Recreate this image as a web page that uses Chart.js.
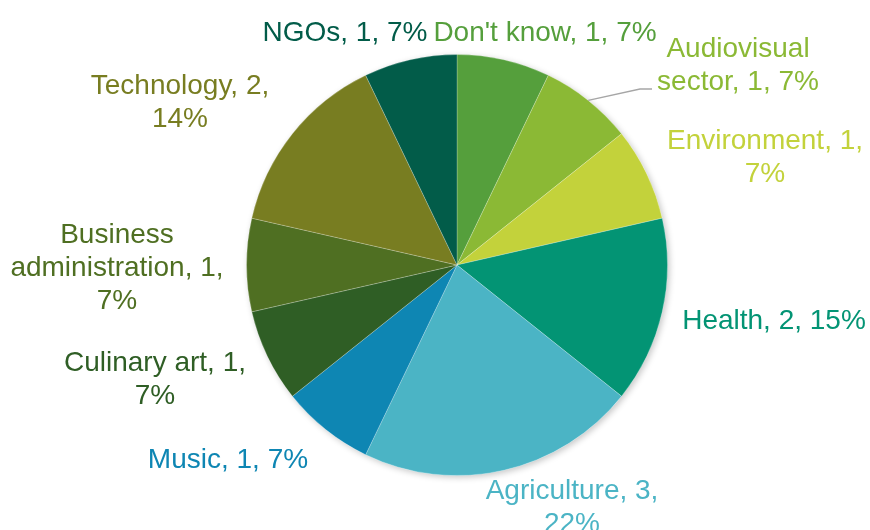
<!DOCTYPE html>
<html>
<head>
<meta charset="utf-8">
<script src="https://cdn.jsdelivr.net/npm/chart.js@4/dist/chart.umd.min.js"></script>
<style>
  html, body { margin: 0; padding: 0; background: #ffffff; }
  #wrap { width: 870px; height: 530px; position: relative; }
</style>
</head>
<body>
<div id="wrap"><canvas id="c" width="870" height="530"></canvas></div>
<script>
// ---- data ----
const categories = ["Don't know", "Audiovisual sector", "Environment", "Health", "Agriculture", "Music", "Culinary art", "Business administration", "Technology", "NGOs"];
const counts = [1, 1, 1, 2, 3, 1, 1, 1, 2, 1];
const percentLabels = ["7%", "7%", "7%", "15%", "22%", "7%", "7%", "7%", "14%", "7%"];
const sliceColors = ["#559f3c", "#8bb935", "#c3d23b", "#039474", "#4bb4c5", "#0e86b3", "#2f5e25", "#4f6f22", "#787d21", "#025c49"];

// ---- label layout (text lines and centre positions) ----
const labelLines = [
  ["Don't know, 1, 7%"],
  ["Audiovisual", "sector, 1, 7%"],
  ["Environment, 1,", "7%"],
  ["Health, 2, 15%"],
  ["Agriculture, 3,", "22%"],
  ["Music, 1, 7%"],
  ["Culinary art, 1,", "7%"],
  ["Business", "administration, 1,", "7%"],
  ["Technology, 2,", "14%"],
  ["NGOs, 1, 7%"]
];
const labelPos = [
  [545, 33], [738, 49], [765, 141], [774, 321], [572, 491],
  [228, 460], [155, 363], [117, 235], [180, 86], [345, 33]
];
const lineHeight = 33;

const labelPlugin = {
  id: 'pieLabels',
  beforeDatasetsDraw(chart) {
    const ctx = chart.ctx;
    ctx.save();
    ctx.shadowColor = 'rgba(0,0,0,0.22)';
    ctx.shadowBlur = 6;
    ctx.shadowOffsetX = 2;
    ctx.shadowOffsetY = 2;
    const arc = chart.getDatasetMeta(0).data[0];
    ctx.beginPath();
    ctx.arc(arc.x, arc.y, arc.outerRadius, 0, Math.PI * 2);
    ctx.fillStyle = '#ffffff';
    ctx.fill();
    ctx.restore();
  },
  afterDatasetsDraw(chart) {
    const ctx = chart.ctx;
    const meta = chart.getDatasetMeta(0);
    ctx.save();
    // leader line for Audiovisual sector
    const a = meta.data[1];
    const mid = (a.startAngle + a.endAngle) / 2;
    const sx = a.x + Math.cos(mid) * a.outerRadius;
    const sy = a.y + Math.sin(mid) * a.outerRadius;
    ctx.strokeStyle = '#a6a6a6';
    ctx.lineWidth = 1.3;
    ctx.beginPath();
    ctx.moveTo(sx, sy);
    ctx.lineTo(640, 89);
    ctx.lineTo(652, 89);
    ctx.stroke();

    ctx.font = '28px "Liberation Sans", Arial, sans-serif';
    ctx.textAlign = 'center';
    ctx.textBaseline = 'middle';
    labelLines.forEach((lines, i) => {
      ctx.fillStyle = sliceColors[i];
      const [x, y] = labelPos[i];
      lines.forEach((t, j) => ctx.fillText(t, x, y + j * lineHeight));
    });
    ctx.restore();
  }
};

new Chart(document.getElementById('c'), {
  type: 'pie',
  data: {
    labels: categories,
    datasets: [{
      data: counts,
      backgroundColor: sliceColors,
      borderColor: 'rgba(255,255,255,0.22)',
      borderWidth: 1
    }]
  },
  options: {
    responsive: false,
    animation: false,
    layout: { padding: { top: 54, bottom: 54, left: 100, right: 56 } },
    plugins: {
      legend: { display: false },
      tooltip: { enabled: false }
    }
  },
  plugins: [labelPlugin]
});
</script>
</body>
</html>
